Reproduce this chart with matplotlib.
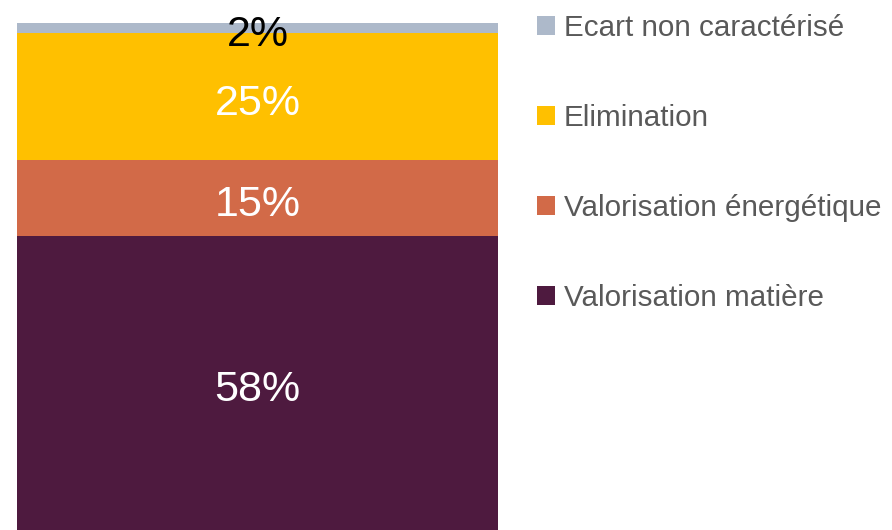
import matplotlib.pyplot as plt
from matplotlib.patches import Patch

# Données : répartition des modes de traitement (%)
categories = ["Valorisation matière", "Valorisation énergétique", "Elimination", "Ecart non caractérisé"]
values = [58, 15, 25, 2]
colors = ["#4E1A3F", "#D26A48", "#FFC000", "#ADB9CA"]
label_colors = ["white", "white", "white", "black"]

plt.rcParams['font.family'] = ['Liberation Sans', 'DejaVu Sans']

fig = plt.figure(figsize=(8.92, 5.30), dpi=100)
ax = fig.add_axes([17 / 892, 0, (498 - 17) / 892, (530 - 23) / 530])

bottom = 0
for cat, val, col, lc in zip(categories, values, colors, label_colors):
    ax.bar(0, val, width=1, bottom=bottom, color=col, label=cat)
    ax.text(0, bottom + val / 2 - 1.4, f"{val}%", ha="center", va="center",
            color=lc, fontsize=31)
    bottom += val

ax.set_xlim(-0.5, 0.5)
ax.set_ylim(0, 100)
ax.axis("off")

handles = [Patch(facecolor=c, edgecolor="none") for c in colors][::-1]
fig.legend(handles, categories[::-1], loc="upper left",
           bbox_to_anchor=(528 / 892, 1 - 5 / 530), frameon=False,
           fontsize=21.3, labelcolor="#595959", handlelength=0.6,
           handleheight=0.6, handletextpad=0.3, labelspacing=2.1,
           borderaxespad=0, borderpad=0.3)

fig.savefig("out.png", dpi=100)
